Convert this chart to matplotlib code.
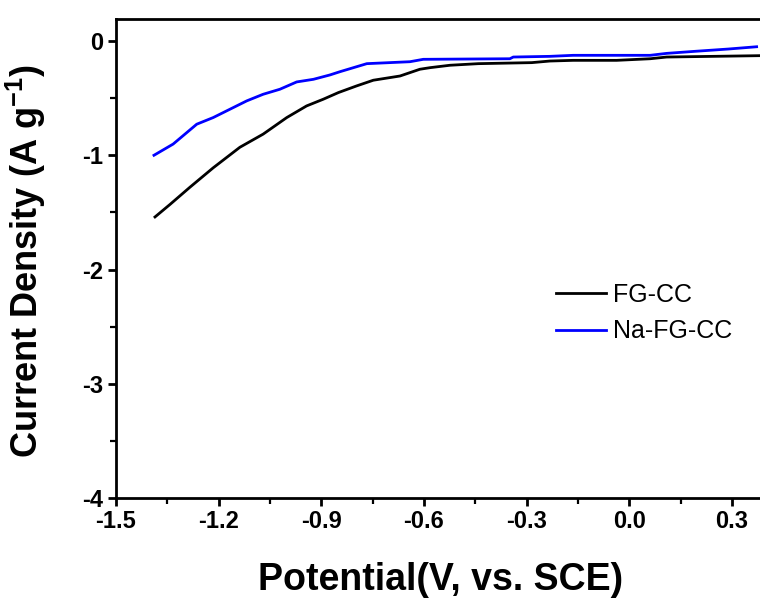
import numpy as np
import matplotlib
matplotlib.use("Agg")
import matplotlib.pyplot as plt
from matplotlib.ticker import MultipleLocator, FixedLocator, FuncFormatter

plt.rcParams['font.family'] = ['Liberation Sans', 'DejaVu Sans']
plt.rcParams['axes.unicode_minus'] = False
plt.rcParams['mathtext.default'] = 'regular'

# FG-CC (black)
fg_x = [-1.386, -1.342, -1.284, -1.216, -1.138, -1.070, -1.001, -0.943, -0.894,
        -0.850, -0.797, -0.748, -0.670, -0.612, -0.582, -0.524, -0.441, -0.285,
        -0.232, -0.164, -0.037, 0.061, 0.109, 0.382]
fg_y = [-1.54, -1.43, -1.28, -1.11, -0.93, -0.815, -0.67, -0.568, -0.509,
        -0.451, -0.393, -0.343, -0.306, -0.247, -0.233, -0.212, -0.198, -0.189,
        -0.175, -0.169, -0.169, -0.155, -0.14, -0.128]

# Na-FG-CC (blue)
na_x = [-1.389, -1.333, -1.264, -1.216, -1.167, -1.118, -1.070, -1.021, -0.972,
        -0.923, -0.875, -0.845, -0.767, -0.641, -0.602, -0.349, -0.339, -0.232,
        -0.164, 0.061, 0.109, 0.192, 0.289, 0.372]
na_y = [-1.00, -0.902, -0.728, -0.67, -0.597, -0.524, -0.466, -0.422, -0.358,
        -0.335, -0.297, -0.268, -0.198, -0.181, -0.16, -0.155, -0.14, -0.134,
        -0.125, -0.125, -0.108, -0.09, -0.07, -0.05]

x_ticks = [-1.5, -1.2, -0.9, -0.6, -0.3, 0.0, 0.3]
y_ticks = [-4, -3, -2, -1, 0]

fig = plt.figure(figsize=(7.6, 6.01), dpi=100)
ax = fig.add_axes([0.1526, 0.1714, 0.9456, 0.797])

ax.plot(fg_x, fg_y, color='black', lw=2.0, label='FG-CC')
ax.plot(na_x, na_y, color='#0000ff', lw=2.0, label='Na-FG-CC')

ax.set_xlim(-1.5, 0.6)
ax.set_ylim(-4, 0.193)
ax.xaxis.set_major_locator(FixedLocator(x_ticks))
ax.xaxis.set_minor_locator(FixedLocator([-1.35, -1.05, -0.75, -0.45, -0.15, 0.15]))
ax.yaxis.set_major_locator(FixedLocator(y_ticks))
ax.yaxis.set_minor_locator(MultipleLocator(0.5))
ax.xaxis.set_major_formatter(FuncFormatter(lambda v, p: '%.1f' % (v if abs(v) > 1e-9 else 0.0)))
ax.yaxis.set_major_formatter(FuncFormatter(lambda v, p: '%d' % round(v)))

for s in ax.spines.values():
    s.set_linewidth(2.0)
ax.tick_params(which='major', direction='out', length=6, width=2.0,
               labelsize=17, pad=3)
ax.tick_params(which='minor', direction='out', length=4, width=1.6)
for lab in ax.get_xticklabels() + ax.get_yticklabels():
    lab.set_fontweight('bold')

ax.set_xlabel('Potential(V, vs. SCE)', fontsize=27, fontweight='bold')
ax.xaxis.set_label_coords(0.452, -0.134)
ax.set_ylabel('Current Density (A g$^{-1}$)', fontsize=26, fontweight='bold')
ax.yaxis.set_label_coords(-0.094, 0.495)

ax.legend(loc='center left', bbox_to_anchor=(0.598, 0.386), frameon=False,
          fontsize=18, handlelength=2.0, handletextpad=0.3, labelspacing=0.5,
          borderpad=0.4, borderaxespad=0)

fig.savefig('out.png', dpi=100)
